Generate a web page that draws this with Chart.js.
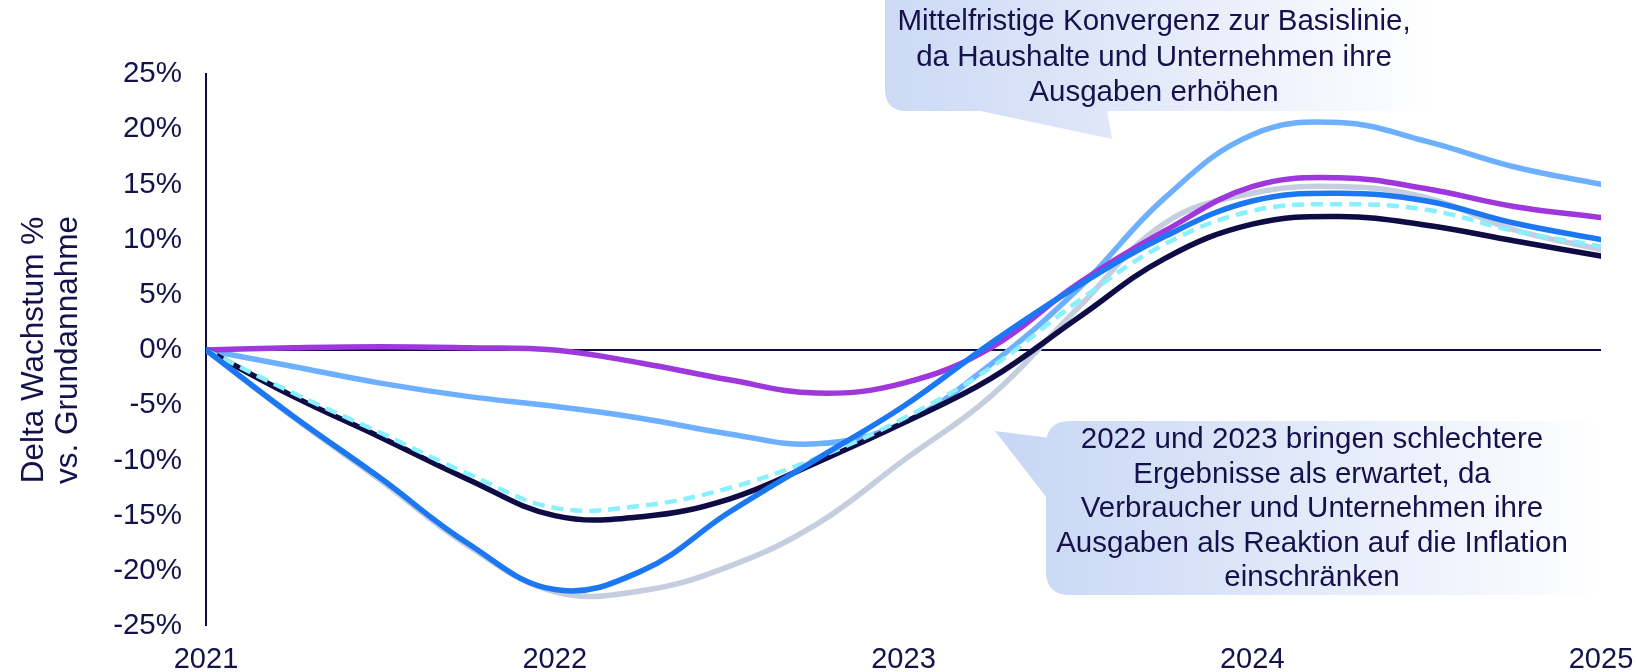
<!DOCTYPE html>
<html>
<head>
<meta charset="utf-8">
<script src="https://cdn.jsdelivr.net/npm/chart.js@4/dist/chart.umd.min.js"></script>
<style>
  html, body { margin: 0; padding: 0; background: #ffffff; }
  #wrap { width: 1637px; height: 672px; }
</style>
</head>
<body>
<div id="wrap"><canvas id="c" width="1637" height="672"></canvas></div>
<script>
// ---- data ----
const years = [2021, 2021.25, 2021.5, 2021.75, 2022, 2022.25, 2022.5, 2022.75, 2023, 2023.25, 2023.5, 2023.75, 2024, 2024.25, 2024.5, 2024.75, 2025];
const purpleSeries   = [0, 0.2, 0.3, 0.2, 0.0, -1.2, -2.7, -3.9, -3.0, 0.2, 6.0, 10.8, 14.8, 15.6, 14.6, 13.0, 12.0];
const lightBlueSeries= [0, -1.5, -3.0, -4.2, -5.1, -6.2, -7.6, -8.5, -6.6, -1.3, 5.5, 13.8, 19.5, 20.6, 18.9, 16.6, 15.0];
const navySeries     = [0, -4.2, -7.9, -11.7, -15.0, -15.1, -13.5, -10.2, -6.6, -2.6, 2.9, 8.3, 11.4, 12.1, 11.3, 9.9, 8.5];
const dashedSeries   = [0, -3.9, -7.5, -11.2, -14.3, -14.1, -12.5, -9.8, -6.2, -1.6, 4.4, 9.6, 12.6, 13.2, 12.7, 10.8, 9.4];
const blueSeries     = [0, -6.0, -11.6, -17.5, -21.7, -20.0, -14.7, -9.9, -5.1, 0.6, 5.8, 10.3, 13.5, 14.2, 13.5, 11.5, 10.0];
const greySeries     = [0, -6.1, -11.8, -17.7, -21.9, -21.8, -19.6, -15.8, -10.0, -4.2, 3.8, 11.5, 14.2, 14.8, 13.8, 10.9, 9.1];
const yTicks = [-25, -20, -15, -10, -5, 0, 5, 10, 15, 20, 25];
const xTicks = [2021, 2022, 2023, 2024, 2025];
const yTitle = ["Delta Wachstum %", "vs. Grundannahme"];
const calloutTop = ["Mittelfristige Konvergenz zur Basislinie,", "da Haushalte und Unternehmen ihre", "Ausgaben erhöhen"];
const calloutBottom = ["2022 und 2023 bringen schlechtere", "Ergebnisse als erwartet, da", "Verbraucher und Unternehmen ihre", "Ausgaben als Reaktion auf die Inflation", "einschränken"];

const FONT = "'Liberation Sans', Arial, Helvetica, sans-serif";
const TEXT = '#15114A';
const NAVY = '#0E0B45';

function pts(arr) { return arr.map((v, i) => ({ x: years[i], y: v })); }

function ds(label, arr, color, extra) {
  return Object.assign({
    label: label, data: pts(arr), borderColor: color, backgroundColor: color,
    borderWidth: 5.5, pointRadius: 0, fill: false, tension: 0.4,
    borderCapStyle: 'round', borderJoinStyle: 'round'
  }, extra || {});
}

// first dataset is drawn on top
const datasets = [
  ds('Szenario A', blueSeries, '#1B78F2'),
  ds('Szenario B', dashedSeries, '#88F0FF', { borderDash: [12, 7], borderWidth: 4.5, borderCapStyle: 'butt' }),
  ds('Szenario C', navySeries, NAVY),
  ds('Szenario D', purpleSeries, '#9F38DC'),
  ds('Szenario E', lightBlueSeries, '#6DB0FF'),
  ds('Szenario F', greySeries, '#C5CEDE')
];

function roundRectPath(ctx, x0, y0, x1, y1, r) {
  ctx.moveTo(x0 + r, y0);
  ctx.lineTo(x1 - r, y0);
  ctx.quadraticCurveTo(x1, y0, x1, y0 + r);
  ctx.lineTo(x1, y1 - r);
  ctx.quadraticCurveTo(x1, y1, x1 - r, y1);
  ctx.lineTo(x0 + r, y1);
  ctx.quadraticCurveTo(x0, y1, x0, y1 - r);
  ctx.lineTo(x0, y0 + r);
  ctx.quadraticCurveTo(x0, y0, x0 + r, y0);
  ctx.closePath();
}

const overlay = {
  id: 'overlay',
  afterDatasetsDraw(chart) {
    const ctx = chart.ctx;
    ctx.save();
    // top callout
    let g = ctx.createLinearGradient(885, 0, 1435, 0);
    g.addColorStop(0, '#CCDAF5');
    g.addColorStop(0.55, '#E6ECFA');
    g.addColorStop(1, '#FFFFFF');
    ctx.fillStyle = g;
    ctx.beginPath();
    roundRectPath(ctx, 885, -20, 1435, 111, 22);
    ctx.fill();
    ctx.beginPath();
    ctx.moveTo(976, 110); ctx.lineTo(1107, 110); ctx.lineTo(1112, 139); ctx.closePath();
    ctx.fill();
    // bottom callout
    g = ctx.createLinearGradient(995, 0, 1605, 0);
    g.addColorStop(0, '#C6D6F4');
    g.addColorStop(0.55, '#E4EBFA');
    g.addColorStop(1, '#FFFFFF');
    ctx.fillStyle = g;
    ctx.beginPath();
    roundRectPath(ctx, 1046, 421, 1605, 595, 24);
    ctx.fill();
    ctx.beginPath();
    ctx.moveTo(1050, 438); ctx.lineTo(995, 431); ctx.lineTo(1050, 502); ctx.closePath();
    ctx.fill();

    ctx.fillStyle = TEXT;
    ctx.font = '29.5px ' + FONT;
    ctx.textAlign = 'center';
    ctx.textBaseline = 'middle';
    calloutTop.forEach((t, i) => ctx.fillText(t, 1154, 22 + i * 35.5));
    calloutBottom.forEach((t, i) => ctx.fillText(t, 1312, 440 + i * 34.5));

    // y axis title
    ctx.font = '31.5px ' + FONT;
    yTitle.forEach((t, i) => {
      ctx.save();
      ctx.translate(34 + i * 34, 350);
      ctx.rotate(-Math.PI / 2);
      ctx.fillText(t, 0, 0);
      ctx.restore();
    });
    ctx.restore();
  }
};

new Chart(document.getElementById('c'), {
  type: 'line',
  data: { datasets: datasets },
  options: {
    responsive: false,
    animation: false,
    devicePixelRatio: 1,
    layout: { padding: { top: 74, right: 36, left: 0, bottom: 0 } },
    plugins: { legend: { display: false }, tooltip: { enabled: false } },
    scales: {
      x: {
        type: 'linear', min: 2021, max: 2025,
        afterBuildTicks: s => { s.ticks = xTicks.map(v => ({ value: v })); },
        afterFit: s => { s.height = 46; s.paddingLeft = 0; s.paddingRight = 0; },
        ticks: { callback: v => String(v), font: { family: FONT, size: 29 }, color: TEXT, padding: 17, maxRotation: 0, autoSkip: false },
        grid: { display: false, drawTicks: false },
        border: { display: false }
      },
      y: {
        min: -25, max: 25,
        afterBuildTicks: s => { s.ticks = yTicks.map(v => ({ value: v })); },
        afterFit: s => { s.width = 206; s.paddingTop = 0; s.paddingBottom = 0; },
        ticks: { callback: v => v + '%', font: { family: FONT, size: 29.5 }, color: TEXT, padding: 24 },
        grid: {
          drawTicks: false,
          color: c => (c.tick && c.tick.value === 0) ? NAVY : 'rgba(0,0,0,0)',
          lineWidth: c => (c.tick && c.tick.value === 0) ? 2 : 0
        },
        border: { display: true, color: NAVY, width: 2 }
      }
    }
  },
  plugins: [overlay]
});
</script>
</body>
</html>
